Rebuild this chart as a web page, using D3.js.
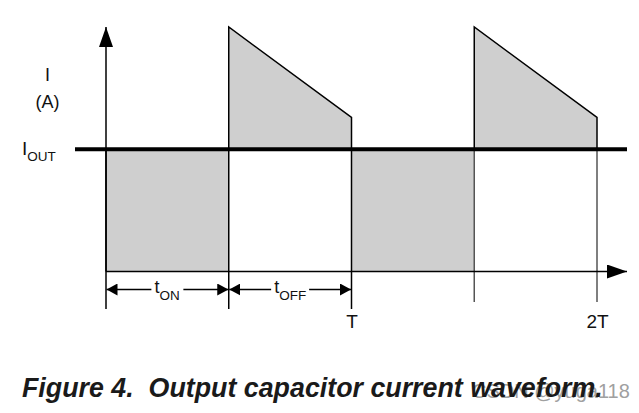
<!DOCTYPE html>
<html>
<head>
<meta charset="utf-8">
<script src="https://cdn.jsdelivr.net/npm/d3@7"></script>
<style>
    body { margin: 0; background: #fff; }
    svg { display: block; font-family: "Liberation Sans", Arial, sans-serif; }
    .caption { font-weight: bold; font-style: italic; white-space: pre; }
</style>
</head>
<body>
<svg id="chart"></svg>
<script>
// Time in units of the period T, current in units of I_OUT
const tOn = 0.5;                       // on-time as fraction of T
const periodStarts = [0, 1];           // start of each switching period
const boundaryTimes = [0, 0.5, 1, 1.5, 2];
const iOut = 1.0;
const iPeak = 2.0;                     // current at start of off-time
const iValley = 1.26;                  // current at end of off-time
const tickValues = [1, 2];
const tickLabels = ['T', '2T'];
const dimensions = [
    { from: 0, to: 0.5, label: 't', sub: 'ON' },
    { from: 0.5, to: 1, label: 't', sub: 'OFF' }
];

const width = 639, height = 413;
const fillGray = '#cfcfcf';

const svg = d3.select('#chart')
    .attr('width', width)
    .attr('height', height);

const x = d3.scaleLinear().domain([0, 2]).range([106, 597]);
const y = d3.scaleLinear().domain([0, 2]).range([271.5, 27]);

// Arrow markers
const defs = svg.append('defs');
defs.append('marker')
    .attr('id', 'arrowBig')
    .attr('viewBox', '0 0 20 14')
    .attr('refX', 20).attr('refY', 7)
    .attr('markerWidth', 20).attr('markerHeight', 14)
    .attr('markerUnits', 'userSpaceOnUse')
    .attr('orient', 'auto')
    .append('path').attr('d', 'M0,0 L20,7 L0,14 Z').attr('fill', '#000');
defs.append('marker')
    .attr('id', 'arrowDim')
    .attr('viewBox', '0 0 11 12')
    .attr('refX', 11).attr('refY', 6)
    .attr('markerWidth', 11).attr('markerHeight', 12)
    .attr('markerUnits', 'userSpaceOnUse')
    .attr('orient', 'auto')
    .append('path').attr('d', 'M0,0 L11,6 L0,12 Z').attr('fill', '#000');

// Shaded regions: below I_OUT during on-time, above I_OUT during off-time
periodStarts.forEach(t0 => {
    svg.append('rect')
        .attr('x', x(t0))
        .attr('y', y(iOut))
        .attr('width', x(t0 + tOn) - x(t0))
        .attr('height', y(0) - y(iOut))
        .attr('fill', fillGray);

    const pts = [[t0 + tOn, iOut], [t0 + tOn, iPeak], [t0 + 1, iValley], [t0 + 1, iOut]];
    svg.append('path')
        .attr('d', d3.line().x(d => x(d[0])).y(d => y(d[1]))(pts) + 'Z')
        .attr('fill', fillGray)
        .attr('stroke', 'none');
    svg.append('path')
        .attr('d', d3.line().x(d => x(d[0])).y(d => y(d[1]))(pts))
        .attr('fill', 'none')
        .attr('stroke', '#000')
        .attr('stroke-width', 1.5);
});

// Vertical boundary lines extending below the time axis
svg.selectAll('.boundary')
    .data(boundaryTimes)
    .join('line')
    .attr('class', 'boundary')
    .attr('x1', d => x(d)).attr('x2', d => x(d))
    .attr('y1', y(iOut))
    .attr('y2', d => d <= 1 ? 309 : 302)
    .attr('stroke', d => d <= 1 ? '#000' : '#555')
    .attr('stroke-width', 1.5);

// Time axis
svg.append('line')
    .attr('x1', x(0)).attr('x2', 627)
    .attr('y1', y(0)).attr('y2', y(0))
    .attr('stroke', '#000').attr('stroke-width', 1.5)
    .attr('marker-end', 'url(#arrowBig)');

// Current axis
svg.append('line')
    .attr('x1', x(0)).attr('x2', x(0))
    .attr('y1', y(0)).attr('y2', y(iPeak))
    .attr('stroke', '#000').attr('stroke-width', 1.5)
    .attr('marker-end', 'url(#arrowBig)');

// I_OUT level
svg.append('line')
    .attr('x1', 75).attr('x2', 627)
    .attr('y1', y(iOut)).attr('y2', y(iOut))
    .attr('stroke', '#000').attr('stroke-width', 4);

// Tick labels T, 2T
const xAxis = d3.axisBottom(x)
    .tickValues(tickValues)
    .tickFormat((d, i) => tickLabels[i])
    .tickSize(0)
    .tickPadding(43);
const xAxisG = svg.append('g')
    .attr('transform', `translate(0,${y(0)})`)
    .call(xAxis);
xAxisG.select('.domain').remove();
xAxisG.selectAll('text')
    .attr('font-family', '"Liberation Sans", Arial, sans-serif')
    .attr('font-size', 19)
    .attr('fill', '#111');

// Dimension arrows t_ON, t_OFF
const dimY = 289.5;
dimensions.forEach(dm => {
    const mid = (x(dm.from) + x(dm.to)) / 2;
    const half = dm.sub === 'ON' ? 16 : 19;
    svg.append('line')
        .attr('x1', mid - half).attr('x2', x(dm.from) + 0.5)
        .attr('y1', dimY).attr('y2', dimY)
        .attr('stroke', '#000').attr('stroke-width', 1.5)
        .attr('marker-end', 'url(#arrowDim)');
    svg.append('line')
        .attr('x1', mid + half).attr('x2', x(dm.to) - 0.5)
        .attr('y1', dimY).attr('y2', dimY)
        .attr('stroke', '#000').attr('stroke-width', 1.5)
        .attr('marker-end', 'url(#arrowDim)');
    const t = svg.append('text')
        .attr('x', mid - half + 3)
        .attr('y', 293)
        .attr('font-size', 18)
        .attr('fill', '#111')
        .text(dm.label);
    t.append('tspan')
        .attr('dy', 7)
        .attr('font-size', 13.5)
        .text(dm.sub);
});

// Axis labels
svg.append('text')
    .attr('x', 47.5).attr('y', 81)
    .attr('text-anchor', 'middle')
    .attr('font-size', 18).attr('fill', '#111')
    .text('I');
svg.append('text')
    .attr('x', 47.5).attr('y', 108)
    .attr('text-anchor', 'middle')
    .attr('font-size', 18).attr('fill', '#111')
    .text('(A)');
const iOutLabel = svg.append('text')
    .attr('x', 22).attr('y', 155)
    .attr('font-size', 19).attr('fill', '#111')
    .text('I');
iOutLabel.append('tspan')
    .attr('dy', 6)
    .attr('font-size', 13.5)
    .text('OUT');

// Watermark (sits under the caption, as in the source image)
svg.append('text')
    .attr('x', 472).attr('y', 398)
    .attr('font-size', 20)
    .attr('fill', '#a0a0a0')
    .text('CSDN @yuga118');

// Caption
svg.append('text')
    .attr('class', 'caption')
    .attr('x', 22).attr('y', 396.5)
    .attr('font-size', 26.8)
    .attr('fill', '#1a1a1a')
    .text('Figure 4.  Output capacitor current waveform.');
</script>
</body>
</html>
